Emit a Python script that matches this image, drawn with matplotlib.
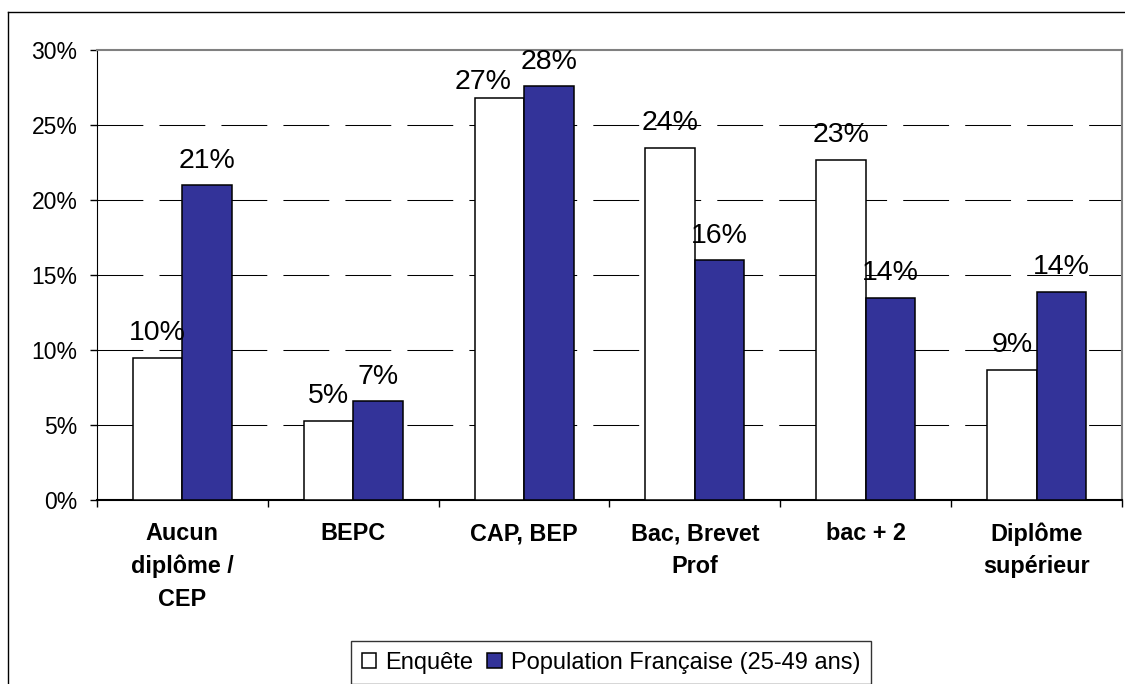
import numpy as np
import matplotlib
matplotlib.use("Agg")
import matplotlib.pyplot as plt
from matplotlib.lines import Line2D

plt.rcParams['font.family'] = ['Liberation Sans', 'DejaVu Sans']

categories = ["Aucun\ndiplôme /\nCEP", "BEPC", "CAP, BEP", "Bac, Brevet\nProf", "bac + 2", "Diplôme\nsupérieur"]
enquete = [9.5, 5.3, 26.8, 23.5, 22.7, 8.7]
population = [21.0, 6.6, 27.6, 16.0, 13.5, 13.9]
series_names = ["Enquête", "Population Française (25-49 ans)"]
y_ticks = [0, 5, 10, 15, 20, 25, 30]

W, H = 1125, 684
fig = plt.figure(figsize=(W / 100, H / 100), dpi=100)
ax = fig.add_axes([97 / W, 1 - 500 / H, (1122 - 97) / W, (500 - 50) / H])

x = np.arange(len(categories))
bw = 0.29
b1 = ax.bar(x - bw / 2, enquete, bw, color="white", edgecolor="black", linewidth=1.1,
            label=series_names[0], zorder=3)
b2 = ax.bar(x + bw / 2, population, bw, color="#333399", edgecolor="black", linewidth=1.1,
            label=series_names[1], zorder=3)

# data labels (Excel pushes the 27% label aside to avoid the 28% one)
nudge = {(0, 2): (-11.5, -6.3)}
for s, (bars, vals) in enumerate([(b1, enquete), (b2, population)]):
    for i, (rect, v) in enumerate(zip(bars, vals)):
        dx, dy = nudge.get((s, i), (0, 0))
        ax.annotate(f"{int(v + 0.5)}%", (rect.get_x() + rect.get_width() / 2, v),
                    xytext=(dx, 12.5 + dy), textcoords="offset points",
                    ha="center", va="baseline", fontsize=20.5, zorder=4)

ax.set_xlim(-0.5, len(categories) - 0.5)
ax.set_ylim(0, 30)
ax.set_yticks(y_ticks)
ax.set_yticklabels([f"{t}%" for t in y_ticks], fontsize=16.5)
ax.tick_params(axis="y", length=5, width=1, pad=9, direction="out")

ax.set_xticks(x)
ax.set_xticklabels(categories, fontsize=16.8, fontweight="bold", linespacing=1.52, va="top")
ax.tick_params(axis="x", length=0, pad=16)
ax.set_xticks(np.arange(len(categories) + 1) - 0.5, minor=True)
ax.tick_params(axis="x", which="minor", length=5, width=1, direction="out")

for t in y_ticks[1:-1]:
    ax.axhline(t, color="black", linewidth=0.75, linestyle=(0, (44, 15.5)), zorder=1)

ax.spines["top"].set_color("#808080")
ax.spines["right"].set_color("#808080")
ax.spines["top"].set_linewidth(1.5)
ax.spines["right"].set_linewidth(1.5)
ax.spines["left"].set_color("black")
ax.spines["bottom"].set_color("black")
ax.spines["bottom"].set_linewidth(1.5)

leg = fig.legend(loc="upper left", bbox_to_anchor=(351 / W, 1 - 641 / H), ncol=2,
                 fontsize=17, frameon=True, fancybox=False, edgecolor="black",
                 handlelength=0.6, handleheight=0.6, handletextpad=0.4,
                 columnspacing=0.6, borderpad=0.45, borderaxespad=0)
leg.get_frame().set_linewidth(1)

# outer chart-area frame, clipped by the image on the right and bottom
fig.add_artist(Line2D([8 / W, 1.0], [1 - 12 / H] * 2, color="black", linewidth=1))
fig.add_artist(Line2D([8 / W] * 2, [1 - 12 / H, 0.0], color="black", linewidth=1))

fig.savefig("out.png", dpi=100)
